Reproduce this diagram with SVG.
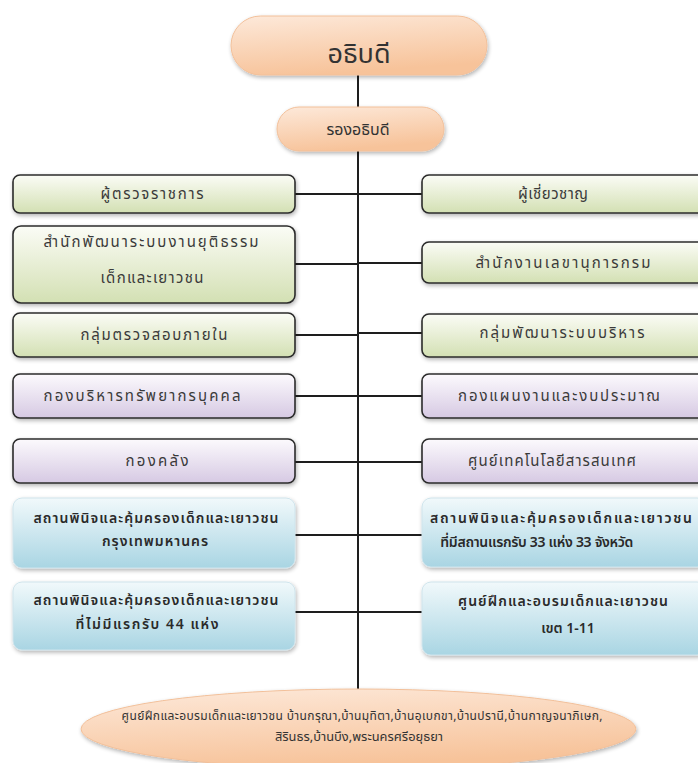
<svg xmlns="http://www.w3.org/2000/svg" width="698" height="763" viewBox="0 0 698 763">
<defs>
<linearGradient id="gOrange" x1="0" y1="0" x2="0.3" y2="1">
<stop offset="0" stop-color="#fde9da"/>
<stop offset="1" stop-color="#f7c39a"/>
</linearGradient>
<linearGradient id="gGreen" x1="0" y1="0" x2="0" y2="1">
<stop offset="0" stop-color="#fbfcf6"/>
<stop offset="1" stop-color="#d3e0b3"/>
</linearGradient>
<linearGradient id="gPurple" x1="0" y1="0" x2="0" y2="1">
<stop offset="0" stop-color="#fcfafd"/>
<stop offset="1" stop-color="#d6c9e3"/>
</linearGradient>
<linearGradient id="gBlue" x1="0" y1="0" x2="0" y2="1">
<stop offset="0" stop-color="#f1f9fb"/>
<stop offset="1" stop-color="#a9d5e3"/>
</linearGradient>
<filter id="sh" x="-10%" y="-20%" width="120%" height="150%">
<feGaussianBlur in="SourceAlpha" stdDeviation="2"/>
<feOffset dx="1" dy="2" result="b"/>
<feComponentTransfer><feFuncA type="linear" slope="0.3"/></feComponentTransfer>
<feMerge><feMergeNode/><feMergeNode in="SourceGraphic"/></feMerge>
</filter>
</defs>
<style>
text{font-family:"Noto Sans Thai","Tahoma","Noto Sans","DejaVu Sans",sans-serif;text-anchor:middle;fill:#3a3a3a}
.pill{fill:url(#gOrange);stroke:#f2c09a;stroke-width:1}
.g{fill:url(#gGreen);stroke:#2b2b2b;stroke-width:1.6}
.p{fill:url(#gPurple);stroke:#2b2b2b;stroke-width:1.6}
.b{fill:url(#gBlue);stroke:#cfe4ec;stroke-width:1}
.t{font-size:15px}
.tb{font-size:14px;font-weight:600;fill:#2a2a2a}
.conn line{stroke:#1e1e1e;stroke-width:2}
</style>
<rect width="698" height="763" fill="#ffffff"/>
<g class="conn" id="connectors">
<line x1="358" y1="75" x2="358" y2="690"/>
<line x1="295" y1="194" x2="422" y2="194"/>
<line x1="295" y1="264" x2="358" y2="264"/>
<line x1="358" y1="263" x2="422" y2="263"/>
<line x1="295" y1="335" x2="358" y2="335"/>
<line x1="358" y1="333" x2="422" y2="333"/>
<line x1="295" y1="396" x2="422" y2="396"/>
<line x1="295" y1="462" x2="422" y2="462"/>
<line x1="295" y1="535" x2="422" y2="535"/>
<line x1="295" y1="612" x2="422" y2="612"/>
</g>
<g id="n-director">
<rect class="pill" x="231" y="16" width="256" height="59" rx="29.5" filter="url(#sh)"/>
<text x="359" y="63" style="font-size:27px;fill:#333">อธิบดี</text>
</g>
<g id="n-deputy">
<rect class="pill" x="277" y="107" width="167" height="44" rx="22" filter="url(#sh)"/>
<text x="358" y="135" style="font-size:16px;fill:#333">รองอธิบดี</text>
</g>
<g id="n-l1"><rect class="g" x="13" y="175" width="282" height="38" rx="7" filter="url(#sh)"/><text class="t" x="152" y="199" textLength="103" lengthAdjust="spacing">ผู้ตรวจราชการ</text></g>
<g id="n-l2"><rect class="g" x="13" y="226" width="282" height="77" rx="8" filter="url(#sh)"/><text class="t" x="151" y="247" textLength="215" lengthAdjust="spacing">สำนักพัฒนาระบบงานยุติธรรม</text><text class="t" x="152" y="283" textLength="103" lengthAdjust="spacing">เด็กและเยาวชน</text></g>
<g id="n-l3"><rect class="g" x="13" y="313" width="282" height="44" rx="7" filter="url(#sh)"/><text class="t" x="154" y="340" textLength="147" lengthAdjust="spacing">กลุ่มตรวจสอบภายใน</text></g>
<g id="n-l4"><rect class="p" x="13" y="374" width="282" height="44" rx="7" filter="url(#sh)"/><text class="t" x="142" y="401" textLength="197" lengthAdjust="spacing">กองบริหารทรัพยากรบุคคล</text></g>
<g id="n-l5"><rect class="p" x="13" y="439" width="282" height="44" rx="7" filter="url(#sh)"/><text class="t" x="157" y="466" textLength="63" lengthAdjust="spacing">กองคลัง</text></g>
<g id="n-l6"><rect class="b" x="13" y="498" width="282" height="70" rx="9" filter="url(#sh)"/><text class="tb" x="156" y="523" textLength="245" lengthAdjust="spacing">สถานพินิจและคุ้มครองเด็กและเยาวชน</text><text class="tb" x="155" y="546" textLength="106" lengthAdjust="spacing">กรุงเทพมหานคร</text></g>
<g id="n-l7"><rect class="b" x="13" y="582" width="282" height="68" rx="9" filter="url(#sh)"/><text class="tb" x="156" y="605" textLength="245" lengthAdjust="spacing">สถานพินิจและคุ้มครองเด็กและเยาวชน</text><text class="tb" x="147" y="629" textLength="143" lengthAdjust="spacing">ที่ไม่มีแรกรับ 44 แห่ง</text></g>
<g id="n-r1"><rect class="g" x="422" y="175" width="284" height="38" rx="7" filter="url(#sh)"/><text class="t" x="553" y="199" textLength="70" lengthAdjust="spacing">ผู้เชี่ยวชาญ</text></g>
<g id="n-r2"><rect class="g" x="422" y="242" width="284" height="41" rx="7" filter="url(#sh)"/><text class="t" x="563" y="268" textLength="175" lengthAdjust="spacing">สำนักงานเลขานุการกรม</text></g>
<g id="n-r3"><rect class="g" x="422" y="314" width="284" height="43" rx="7" filter="url(#sh)"/><text class="t" x="562" y="338" textLength="165" lengthAdjust="spacing">กลุ่มพัฒนาระบบบริหาร</text></g>
<g id="n-r4"><rect class="p" x="422" y="374" width="284" height="44" rx="7" filter="url(#sh)"/><text class="t" x="559" y="401" textLength="202" lengthAdjust="spacing">กองแผนงานและงบประมาณ</text></g>
<g id="n-r5"><rect class="p" x="422" y="439" width="284" height="44" rx="7" filter="url(#sh)"/><text class="t" x="552" y="466" textLength="168" lengthAdjust="spacing">ศูนย์เทคโนโลยีสารสนเทศ</text></g>
<g id="n-r6"><rect class="b" x="422" y="498" width="284" height="69" rx="9" filter="url(#sh)"/><text class="tb" x="561" y="523" textLength="262" lengthAdjust="spacing">สถานพินิจและคุ้มครองเด็กและเยาวชน</text><text class="tb" x="440" y="547" style="text-anchor:start" textLength="193" lengthAdjust="spacing">ที่มีสถานแรกรับ 33 แห่ง 33 จังหวัด</text></g>
<g id="n-r7"><rect class="b" x="422" y="582" width="284" height="73" rx="9" filter="url(#sh)"/><text class="tb" x="563" y="606" textLength="210" lengthAdjust="spacing">ศูนย์ฝึกและอบรมเด็กและเยาวชน</text><text class="tb" x="568" y="633">เขต 1-11</text></g>
<g id="n-bottom">
<ellipse class="pill" cx="358.5" cy="729" rx="277.5" ry="40" filter="url(#sh)"/>
<text x="362" y="720" style="font-size:12px;fill:#333" textLength="481" lengthAdjust="spacing">ศูนย์ฝึกและอบรมเด็กและเยาวชน บ้านกรุณา,บ้านมุทิตา,บ้านอุเบกขา,บ้านปรานี,บ้านกาญจนาภิเษก,</text>
<text x="359" y="741" style="font-size:12px;fill:#333" textLength="168" lengthAdjust="spacingAndGlyphs">สิรินธร,บ้านบึง,พระนครศรีอยุธยา</text>
</g>
</svg>
